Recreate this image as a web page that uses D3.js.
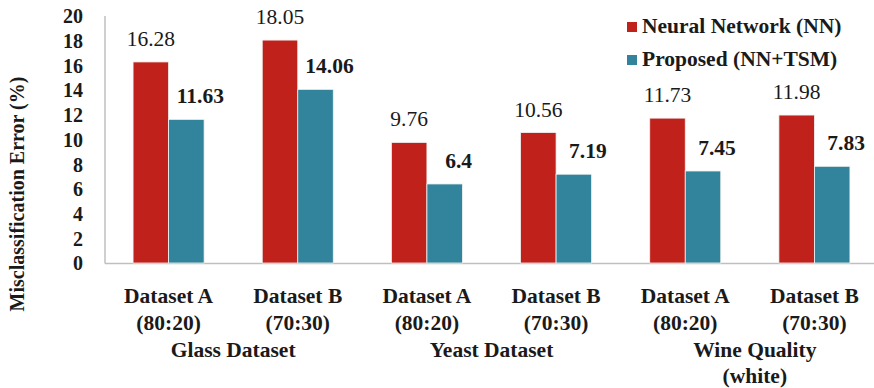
<!DOCTYPE html>
<html>
<head>
<meta charset="utf-8">
<script src="https://cdn.jsdelivr.net/npm/d3@7"></script>
<style>
html,body{margin:0;padding:0;background:#fff;}
svg{display:block;}
text{font-family:"Liberation Serif","Tinos","Times New Roman","DejaVu Serif",serif;fill:#1a1a1a;}
</style>
</head>
<body>
<svg id="chart" width="874" height="388"></svg>
<script>
const categories = ["Dataset A|(80:20)", "Dataset B|(70:30)", "Dataset A|(80:20)", "Dataset B|(70:30)", "Dataset A|(80:20)", "Dataset B|(70:30)"];
const groupNames = ["Glass Dataset", "Yeast Dataset", "Wine Quality|(white)"];
const seriesNames = ["Neural Network (NN)", "Proposed (NN+TSM)"];
const nnValues = [16.28, 18.05, 9.76, 10.56, 11.73, 11.98];
const tsmValues = [11.63, 14.06, 6.4, 7.19, 7.45, 7.83];
const yTicks = [0, 2, 4, 6, 8, 10, 12, 14, 16, 18, 20];
const colors = ["#C0211A", "#31849B"];

const svg = d3.select("#chart");
const x0 = d3.scaleBand().domain(d3.range(categories.length)).range([104, 879]).padding(0);
const bw = x0.bandwidth();
const pair = bw * 0.55;
const x1 = d3.scaleBand().domain([0, 1]).range([(bw - pair) / 2, (bw + pair) / 2]).padding(0);
const y = d3.scaleLinear().domain([0, 20]).range([263, 16]);

svg.append("line").attr("x1", 105).attr("x2", 105).attr("y1", 16).attr("y2", 263.5)
  .attr("stroke", "#bfbfbf").attr("stroke-width", 1.5);
svg.append("line").attr("x1", 105).attr("x2", 874).attr("y1", 263.5).attr("y2", 263.5)
  .attr("stroke", "#bfbfbf").attr("stroke-width", 1.5);

const yAxis = d3.axisLeft(y).tickValues(yTicks).tickSize(0).tickPadding(0);
const gy = svg.append("g").attr("transform", "translate(83,0)").call(yAxis);
gy.select(".domain").remove();
gy.selectAll("text").attr("font-size", 20)
  .attr("font-weight", "bold").attr("fill", "#1a1a1a").attr("dy", "0.34em");

svg.append("text").attr("transform", "translate(24,194) rotate(-90)")
  .attr("text-anchor", "middle").attr("font-size", 20).attr("font-weight", "bold")
  .text("Misclassification Error (%)");

const data = categories.map((c, i) => ({i, vals: [nnValues[i], tsmValues[i]]}));
const g = svg.selectAll(".grp").data(data).enter().append("g")
  .attr("transform", d => `translate(${x0(d.i)},0)`);

g.selectAll("rect").data(d => d.vals.map((v, k) => ({v, k}))).enter().append("rect")
  .attr("x", d => x1(d.k)).attr("width", x1.bandwidth())
  .attr("y", d => y(d.v)).attr("height", d => y(0) - y(d.v))
  .attr("fill", d => colors[d.k]).attr("stroke", "#f2f2f2").attr("stroke-width", 0.8);

g.selectAll(".vl").data(d => d.vals.map((v, k) => ({v, k}))).enter().append("text")
  .attr("class", "vl")
  .attr("x", d => x1(d.k) + x1.bandwidth() / 2 + (d.k === 1 ? 14 : 0))
  .attr("y", d => y(d.v) - 16)
  .attr("text-anchor", "middle").attr("font-size", 21.5)
  .attr("font-weight", d => d.k === 1 ? "bold" : "normal")
  .text(d => d.v);

g.each(function(d) {
  const parts = categories[d.i].split("|");
  const t = d3.select(this);
  parts.forEach((p, j) => {
    t.append("text").attr("x", bw / 2).attr("y", 303 + j * 27)
      .attr("text-anchor", "middle").attr("font-size", 21.5).attr("font-weight", "bold").text(p);
  });
});

groupNames.forEach((name, gi) => {
  const cx = (x0(gi * 2) + x0(gi * 2 + 1) + bw) / 2 + (gi === 2 ? 5 : 0);
  name.split("|").forEach((p, j) => {
    svg.append("text").attr("x", cx).attr("y", 357 + j * 26)
      .attr("text-anchor", "middle").attr("font-size", 21.5).attr("font-weight", "bold").text(p);
  });
});

const lg = svg.selectAll(".lg").data(seriesNames).enter().append("g")
  .attr("transform", (d, i) => `translate(627,${22 + i * 33})`);
lg.append("rect").attr("width", 10).attr("height", 10).attr("fill", (d, i) => colors[i]);
lg.append("text").attr("x", 15).attr("y", 11).attr("font-size", 21.5).attr("font-weight", "bold").text(d => d);
</script>
</body>
</html>
